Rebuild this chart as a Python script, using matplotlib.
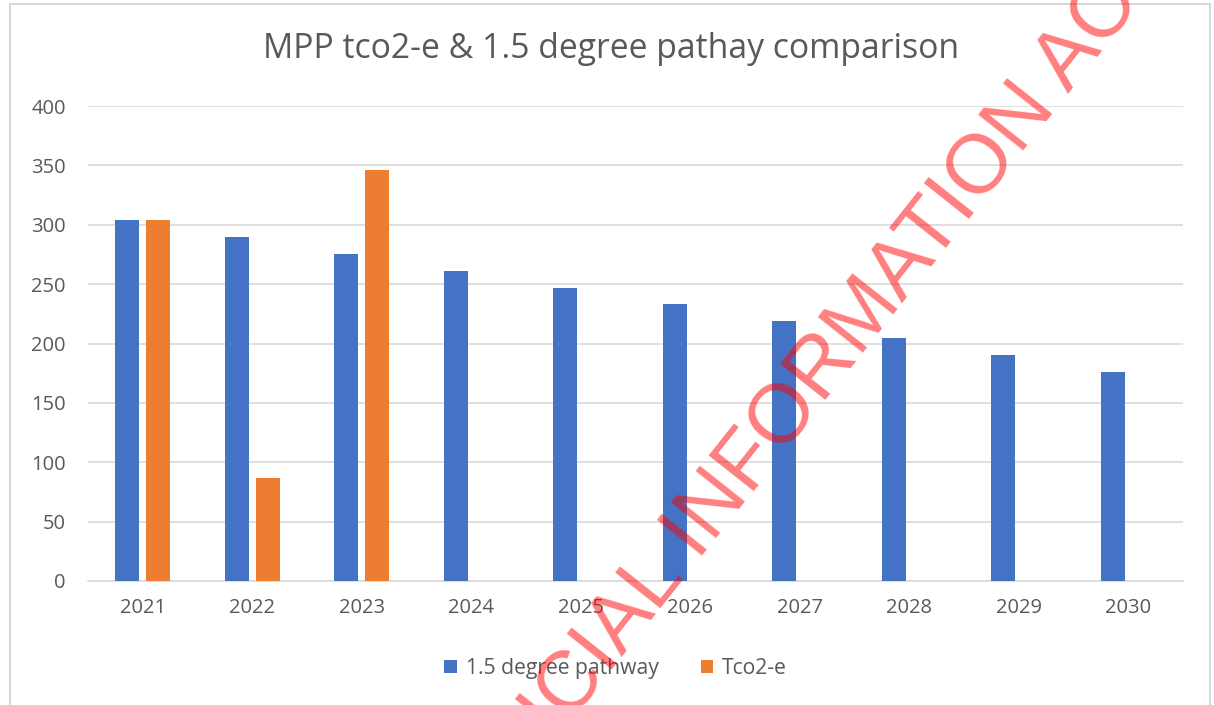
import matplotlib
matplotlib.use("Agg")
import matplotlib.pyplot as plt
from matplotlib.patches import Rectangle
import numpy as np

# chart data
years = ['2021', '2022', '2023', '2024', '2025', '2026', '2027', '2028', '2029', '2030']
pathway = [304, 290, 275, 261, 247, 233, 219, 205, 190, 176]
tco2e = [304, 87, 346, 0, 0, 0, 0, 0, 0, 0]
yticks = [0, 50, 100, 150, 200, 250, 300, 350, 400]

blue = '#4472C4'
orange = '#ED7D31'
grey_text = '#595959'
grid_col = '#D9D9D9'

plt.rcParams['font.family'] = ['Open Sans', 'DejaVu Sans']

fig = plt.figure(figsize=(12.14, 7.05), dpi=100)

# light border of the chart area
fig.patches.append(Rectangle((9.5 / 1214, -0.01), (1210 - 9.5) / 1214, 1 - 4.5 / 705 + 0.01,
                             transform=fig.transFigure, fill=False,
                             edgecolor='#D0D0D0', linewidth=1.2))

ax = fig.add_axes([88 / 1214, 1 - 581 / 705, (1183 - 88) / 1214, (581 - 106) / 705])

x = np.arange(len(years))
w = 0.22
ax.bar(x - 0.143, pathway, width=w, color=blue, label='1.5 degree pathway', zorder=3)
ax.bar(x + 0.143, tco2e, width=w, color=orange, label='Tco2-e', zorder=3)

ax.set_xlim(-0.5, len(years) - 0.5)
ax.set_ylim(0, 400)
ax.set_yticks(yticks)
ax.set_xticks(x)
ax.set_xticklabels(years)
ax.grid(axis='y', color=grid_col, linewidth=1.2, zorder=0)
for s in ['top', 'right', 'left']:
    ax.spines[s].set_visible(False)
ax.spines['bottom'].set_color(grid_col)
ax.spines['bottom'].set_linewidth(1.2)
ax.tick_params(axis='both', length=0, labelsize=14.5, colors=grey_text)
ax.tick_params(axis='y', pad=16)
ax.tick_params(axis='x', pad=12)

fig.text(0.503, 0.93, 'MPP tco2-e & 1.5 degree pathay comparison', ha='center', va='center',
         fontsize=24.3, color=grey_text)

leg = fig.legend(loc='center', bbox_to_anchor=(0.507, 0.052), ncol=2, frameon=False,
                 fontsize=15.2, handlelength=0.6, handleheight=0.6, handletextpad=0.4,
                 columnspacing=2.0)
for t in leg.get_texts():
    t.set_color(grey_text)

# watermark
fig.text(795 / 1214, 1 - 404 / 705, 'OFFICIAL INFORMATION ACT', rotation=51.6,
         rotation_mode='anchor', ha='center', va='center', fontsize=60,
         family='Liberation Sans', color='red', alpha=0.5, zorder=10)

fig.savefig('out.png', dpi=100)
